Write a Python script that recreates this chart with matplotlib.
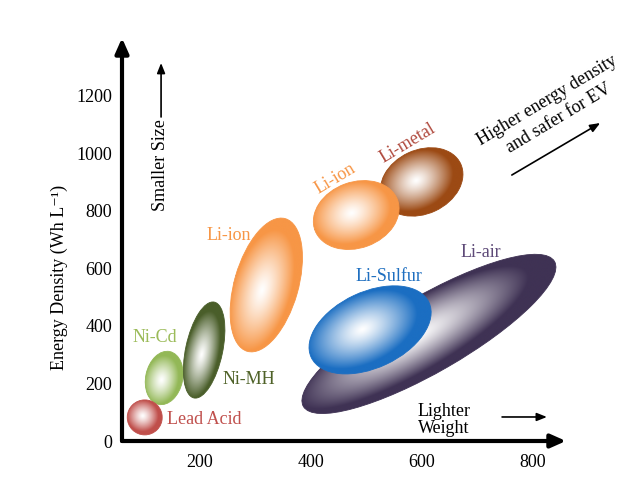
import numpy as np
import matplotlib
matplotlib.use("Agg")
import matplotlib.pyplot as plt
from matplotlib.patches import Ellipse
from matplotlib.transforms import Affine2D, ScaledTranslation
from matplotlib.colors import to_rgb

# battery chemistries: centre of each region (specific energy, energy density)
chemistries = ["Lead Acid", "Ni-Cd", "Ni-MH", "Li-ion", "Li-ion", "Li-metal", "Li-Sulfur", "Li-air"]
weight_centre = [101, 136, 208, 320, 482, 600, 507, 613]
density_centre = [82, 219, 316, 542, 785, 900, 386, 372]

x_ticks = [200, 400, 600, 800]
y_ticks = [0, 200, 400, 600, 800, 1000, 1200]

# look of each region: semi axes (px), angle (deg), colours, draw order
semi_axes = [(17.5, 17.5), (27, 18.5), (49, 18.5), (69, 32), (44, 33), (43, 32), (65, 38), (145, 38)]
angles = [0, 78, 78, 74, 20, 25, 25, 30]
fill_colors = ["#c04f4b", "#93b857", "#4a5e2a", "#f79646", "#f79646", "#9c4a14", "#1b6ec2", "#3f3254"]
text_colors = ["#c0504d", "#9bbb59", "#4f6228", "#f79646", "#f79646", "#b04a3e", "#1f6fc0", "#5e4a78"]
zorders = [8, 6, 7, 5, 4, 3, 2, 1]

# label placement (data coords) and rotation
label_pos = [(141, 76), (119, 358), (288, 215), (253, 715), (444, 913), (575, 1035), (541, 570), (707, 656)]
label_rot = [0, 0, 0, 0, 31, 31, 0, 0]
label_ha = ["left", "center", "center", "center", "center", "center", "center", "center"]

plt.rcParams["font.family"] = ["Liberation Serif", "DejaVu Serif"]


def gradient(color, n=256):
    u = np.linspace(-1, 1, n)
    v = np.linspace(1, -1, n)
    U, V = np.meshgrid(u, v)
    d = np.hypot(U + 0.1, V - 0.1) / 0.9
    t = np.clip(d, 0, 1) ** 1.25
    c = np.array(to_rgb(color))
    return (1 - t)[..., None] * np.ones(3) + t[..., None] * c


fig = plt.figure(figsize=(6.4, 4.86), dpi=100)
ax = fig.add_axes([122 / 640, 1 - 441 / 486, 444 / 640, 403 / 486])

for i in range(len(chemistries)):
    a, b = semi_axes[i]
    trans = (Affine2D().scale(a, b).rotate_deg(angles[i])
             + ScaledTranslation(weight_centre[i], density_centre[i], ax.transData))
    ell = Ellipse((0, 0), 2, 2, transform=trans, facecolor="none",
                  edgecolor=fill_colors[i], lw=0.6, zorder=zorders[i] + 0.5)
    ax.add_patch(ell)
    im = ax.imshow(gradient(fill_colors[i]), extent=(-1, 1, -1, 1), transform=trans,
                   interpolation="bilinear", aspect="auto", zorder=zorders[i])
    im.set_clip_path(ell)
    ax.text(label_pos[i][0], label_pos[i][1], chemistries[i], color=text_colors[i],
            fontsize=13, rotation=label_rot[i], ha=label_ha[i], va="center",
            rotation_mode="anchor", zorder=10)

ax.set_xlim(60, 860)
ax.set_ylim(0, 1400)
ax.set_xticks(x_ticks)
ax.set_yticks(y_ticks)
ax.tick_params(length=0, labelsize=13)
ax.tick_params(axis="x", pad=9)
ax.tick_params(axis="y", pad=7)
for s in ax.spines.values():
    s.set_visible(False)

axis_arrow = dict(arrowstyle="-|>,head_length=0.45,head_width=0.2", lw=3, color="black",
                  mutation_scale=20, shrinkA=0, shrinkB=0)
ax.annotate("", xy=(0, 1), xytext=(0, 0), xycoords="axes fraction", arrowprops=axis_arrow,
            annotation_clip=False)
ax.annotate("", xy=(1, 0), xytext=(0, 0), xycoords="axes fraction", arrowprops=axis_arrow,
            annotation_clip=False)

ax.text(-0.142, 0.407, "Energy Density (Wh L\u207b\u00b9)", transform=ax.transAxes,
        rotation=90, ha="center", va="center", fontsize=13)

# Smaller size note
ax.text(0.0856, 0.684, "Smaller Size", transform=ax.transAxes, rotation=90,
        ha="center", va="center", fontsize=13)
thin = dict(arrowstyle="-|>,head_length=0.5,head_width=0.2", lw=1.2, color="black",
            mutation_scale=12, shrinkA=0, shrinkB=0)
ax.annotate("", xy=(0.088, 0.938), xytext=(0.088, 0.804), xycoords="axes fraction",
            arrowprops=thin, annotation_clip=False)

# Lighter weight note
ax.text(0.725, 0.052, "Lighter\nWeight", transform=ax.transAxes, ha="center", va="center",
        fontsize=13, linespacing=1.0, zorder=11)
ax.annotate("", xy=(0.957, 0.0596), xytext=(0.856, 0.0596), xycoords="axes fraction",
            arrowprops=thin, annotation_clip=False)

# Higher energy note, one text per line
ax.text(0.962, 0.834, "Higher energy density", transform=ax.transAxes, rotation=31,
        ha="center", va="baseline", fontsize=13, rotation_mode="anchor")
ax.text(0.989, 0.790, "and safer for EV", transform=ax.transAxes, rotation=31,
        ha="center", va="baseline", fontsize=13, rotation_mode="anchor")
ax.annotate("", xy=(1.077, 0.789), xytext=(0.878, 0.660), xycoords="axes fraction",
            arrowprops=thin, annotation_clip=False)

fig.savefig("out.png", dpi=100)
